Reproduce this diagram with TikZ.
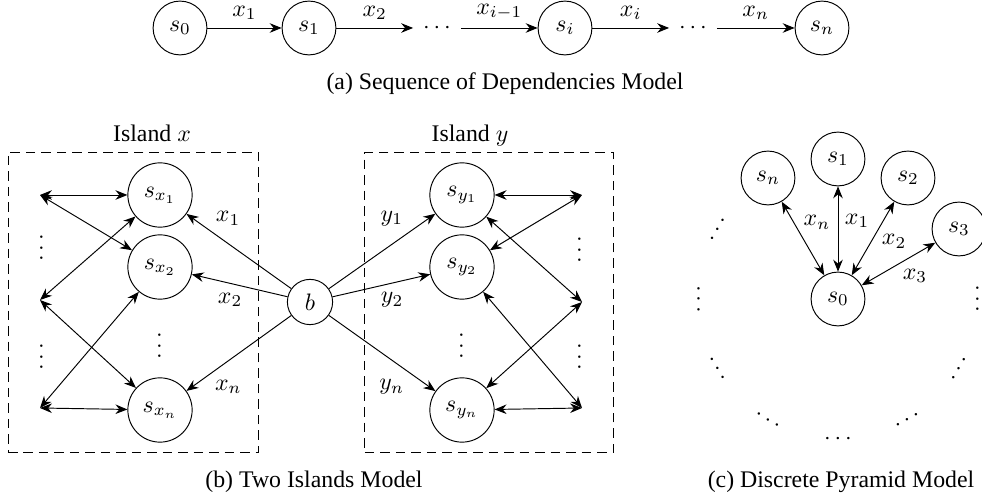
\documentclass[tikz,border=0pt]{standalone}
\usepackage[no-math]{fontspec}
\setmainfont{Liberation Serif}
\usetikzlibrary{arrows.meta}
\begin{document}
\begin{tikzpicture}[x=0.42pt,y=-0.42pt,
  st/.style={draw,circle,minimum size=22.6pt,inner sep=1pt},
  stb/.style={draw,circle,minimum size=27pt,inner sep=1pt},
  bnode/.style={draw,circle,minimum size=19pt,inner sep=1pt},
  tip/.style={-{Stealth[length=5pt,width=4pt]}},
  dtip/.style={{Stealth[length=5pt,width=4pt]}-{Stealth[length=5pt,width=4pt]}},
  island/.style={draw,dash pattern=on 4pt off 2.5pt,inner sep=0pt},
  dotnode/.style={inner sep=4pt},
  rdots/.style={inner sep=0.5pt}]
\useasboundingbox (0,0) rectangle (982,501);
% ---------- (a) ----------
\node[st] (a0) at (180,28) {$s_0$};
\node[st] (a1) at (309,28) {$s_1$};
\node[dotnode] (ad1) at (437,28) {$\cdots$};
\node[st] (ai) at (565,28) {$s_i$};
\node[dotnode] (ad2) at (693,28) {$\cdots$};
\node[st] (an) at (822,28) {$s_n$};
\draw[tip] (a0) -- node[above] (la1) {$x_1$} (a1);
\draw[tip] (a1) -- node[above] (la2) {$x_2$} (ad1);
\draw[tip] (ad1) -- node[above] (la3) {$x_{i-1}$} (ai);
\draw[tip] (ai) -- node[above] (la4) {$x_i$} (ad2);
\draw[tip] (ad2) -- node[above] (la5) {$x_n$} (an);
\node (capa) at (505,84) {(a) Sequence of Dependencies Model};
% ---------- (b) ----------
\node[island,minimum width=105pt,minimum height=126.4pt] (boxx) at (133,302.5) {};
\node[island,minimum width=104.2pt,minimum height=126.4pt] (boxy) at (489,302.5) {};
\node[anchor=base] (labx) at (152,142) {Island $x$};
\node[anchor=base] (laby) at (470,142) {Island $y$};
\node[stb] (sx1) at (160,195) {$s_{x_1}$};
\node[stb] (sx2) at (160,267) {$s_{x_2}$};
\node[stb] (sxn) at (160,410) {$s_{x_n}$};
\node[stb] (sy1) at (462,195) {$s_{y_1}$};
\node[stb] (sy2) at (462,267) {$s_{y_2}$};
\node[stb] (syn) at (462,410) {$s_{y_n}$};
\node[bnode] (b) at (310,302) {$b$};
\node[rdots,rotate=90] (vx) at (160,346) {$\cdots$};
\node[rdots,rotate=90] (vy) at (462,346) {$\cdots$};
\node[rdots,rotate=90] (vl1) at (42,248) {$\cdots$};
\node[rdots,rotate=90] (vl2) at (42,357) {$\cdots$};
\node[rdots,rotate=90] (vr1) at (580,250) {$\cdots$};
\node[rdots,rotate=90] (vr2) at (580,357) {$\cdots$};
\coordinate (L1) at (40,195);
\coordinate (L2) at (40,300);
\coordinate (L3) at (40,408);
\coordinate (R1) at (582,195);
\coordinate (R2) at (582,302);
\coordinate (R3) at (582,408);
\draw[dtip] (L1) -- (sx1);
\draw[dtip] (L1) -- (sx2);
\draw[dtip] (L2) -- (sx1);
\draw[dtip] (L2) -- (sxn);
\draw[dtip] (L3) -- (sx2);
\draw[dtip] (L3) -- (sxn);
\draw[dtip] (sy1) -- (R1);
\draw[dtip] (sy2) -- (R1);
\draw[dtip] (sy1) -- (R2);
\draw[dtip] (syn) -- (R2);
\draw[dtip] (sy2) -- (R3);
\draw[dtip] (syn) -- (R3);
\draw[tip] (b) -- node[pos=.717,xshift=5pt,yshift=7.1pt] (lx1) {$x_1$} (sx1);
\draw[tip] (b) -- node[pos=.562,xshift=-1.5pt,yshift=-6.6pt] (lx2) {$x_2$} (sx2);
\draw[tip] (b) -- node[pos=.719,xshift=5.2pt,yshift=-7.2pt] (lxn) {$x_n$} (sxn);
\draw[tip] (b) -- node[pos=.708,xshift=-5.2pt,yshift=7.3pt] (ly1) {$y_1$} (sy1);
\draw[tip] (b) -- node[pos=.570,xshift=1.6pt,yshift=-6.7pt] (ly2) {$y_2$} (sy2);
\draw[tip] (b) -- node[pos=.709,xshift=-5.3pt,yshift=-7.5pt] (lyn) {$y_n$} (syn);
\node (capb) at (314,482) {(b) Two Islands Model};
% ---------- (c) ----------
\node[st] (c0) at (838,299) {$s_0$};
\node[st] (c1) at (838,159) {$s_1$};
\node[st] (c2) at (908,178) {$s_2$};
\node[st] (c3) at (959,229) {$s_3$};
\node[st] (cn) at (768,178) {$s_n$};
\draw[dtip] (c0) -- node[pos=.585,xshift=7.4pt,yshift=4.2pt] (lcn) {$x_n$} (cn);
\draw[dtip] (c0) -- node[pos=.593,xshift=8pt] (lc1) {$x_1$} (c1);
\draw[dtip] (c0) -- node[pos=.597,xshift=7.1pt,yshift=-4.1pt] (lc2) {$x_2$} (c2);
\draw[dtip] (c0) -- node[pos=.597,xshift=3.9pt,yshift=-6.8pt] (lc3) {$x_3$} (c3);
\foreach \a in {150,180,...,360}
  \node[rdots,rotate=\a+90] (cd\a) at ({838+140*cos(\a)},{299-140*sin(\a)}) {$\cdots$};
\node (capc) at (841,482) {(c) Discrete Pyramid Model};
\end{tikzpicture}
\end{document}
